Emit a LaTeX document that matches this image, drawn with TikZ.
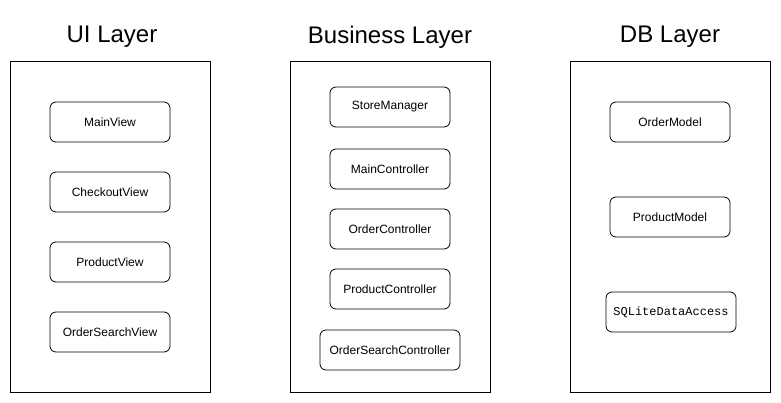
\documentclass[tikz,border=0pt]{standalone}
\usepackage{fontspec}
\setmainfont{Liberation Sans}
\newfontfamily\codefont{Liberation Mono}
\tikzset{
layerbox/.style={draw, line width=1pt, minimum width=200pt, minimum height=330pt, inner sep=0pt},
layertitle/.style={font=\fontsize{24}{28}\selectfont},
classbox/.style={draw, line width=0.8pt, rounded corners=6pt, minimum height=40pt, minimum width=120pt, inner sep=0pt, font=\fontsize{12}{14}\selectfont}
}
\begin{document}
\begin{tikzpicture}[x=1pt, y=-1pt]
\useasboundingbox (0,0) rectangle (781,403);
% layers
\node[layerbox] (ui) at (110,227) {};
\node[layerbox] (biz) at (390,227) {};
\node[layerbox] (db) at (670,227) {};
\node[layertitle] (uit) at (112,37) {UI Layer};
\node[layertitle] (bizt) at (390,37) {Business Layer};
\node[layertitle] (dbt) at (670,37) {DB Layer};
% UI layer
\node[classbox] (mainview) at (110,122) {MainView};
\node[classbox] (checkoutview) at (110,192) {CheckoutView};
\node[classbox] (productview) at (110,262) {ProductView};
\node[classbox] (ordersearchview) at (110,332) {OrderSearchView};
% business layer
\node[classbox] (storemanager) at (390,107) {StoreManager};
\node[classbox] (maincontroller) at (390,169) {MainController};
\node[classbox] (ordercontroller) at (390,229) {OrderController};
\node[classbox] (productcontroller) at (390,289) {ProductController};
\node[classbox, minimum width=140pt] (ordersearchcontroller) at (390,350) {OrderSearchController};
% db layer
\node[classbox] (ordermodel) at (670,122) {OrderModel};
\node[classbox] (productmodel) at (670,217) {ProductModel};
\node[classbox, minimum width=130pt, font=\codefont\fontsize{12}{14}\selectfont] (sqlite) at (671,312) {SQLiteDataAccess};
\end{tikzpicture}
\end{document}
